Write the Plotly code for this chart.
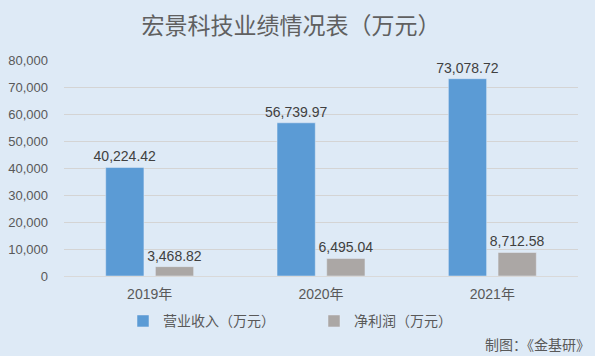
import plotly.graph_objects as go

years = ["2019年", "2020年", "2021年"]
revenue = [40224.42, 56739.97, 73078.72]
profit = [3468.82, 6495.04, 8712.58]
series_names = ["营业收入（万元）", "净利润（万元）"]
y_ticks = [0, 10000, 20000, 30000, 40000, 50000, 60000, 70000, 80000]
title = "宏景科技业绩情况表（万元）"
footer = "制图：《金基研》"

FONT = "Liberation Sans, Noto Sans CJK SC, sans-serif"
TXT = "#595959"

fig = go.Figure()
fig.add_trace(go.Bar(x=years, y=revenue, name=series_names[0], marker_color="#5B9BD5",
                     texttemplate="%{y:,.2f}", textposition="outside", constraintext="none",
                     textfont=dict(size=14, color="#404040", family=FONT), cliponaxis=False))
fig.add_trace(go.Bar(x=years, y=profit, name=series_names[1], marker_color="#ABA7A5",
                     texttemplate="%{y:,.2f}", textposition="outside", constraintext="none",
                     textfont=dict(size=14, color="#404040", family=FONT), cliponaxis=False))

fig.update_layout(
    width=595, height=356,
    paper_bgcolor="#DEEAF6", plot_bgcolor="#DEEAF6",
    margin=dict(l=64, r=17, t=60, b=80, autoexpand=False),
    barmode="group", bargap=0.42, bargroupgap=0.23,
    font=dict(family=FONT, color=TXT, size=13),
    title=dict(text=title, x=291/595, xanchor="center", y=1 - 26/356, yanchor="middle",
               font=dict(family="Noto Sans CJK SC", size=23, color="#606060")),
    legend=dict(orientation="h", x=(123-64)/514, xanchor="left", y=-0.21, yanchor="middle",
                font=dict(family="Noto Sans CJK SC", size=14, color=TXT),
                itemwidth=30, traceorder="normal", entrywidthmode="pixels", entrywidth=146),
    showlegend=True,
)
fig.update_xaxes(showgrid=False, showline=True, linecolor="#D9D9D9", linewidth=1,
                 ticks="", tickfont=dict(size=14, color=TXT, family="Liberation Sans, Noto Sans CJK SC"),
                 ticklabelstandoff=5, automargin=False)
fig.update_yaxes(range=[0, 80000], tickvals=y_ticks, tickformat=",", showgrid=True,
                 gridcolor="#D4D4D4", gridwidth=1, zeroline=False, showline=False,
                 tickfont=dict(size=13, color=TXT), ticklabelstandoff=15, automargin=False)
fig.add_annotation(text=footer, xref="paper", yref="paper", x=1 + 14/514, xanchor="right",
                   y=-(344-276)/216, yanchor="middle", showarrow=False,
                   font=dict(family="Noto Sans CJK SC", size=14, color=TXT))
fig.write_html("out.html", config={"displayModeBar": False})

with open("out.html", "r", encoding="utf-8") as f:
    html = f.read()
html = html.replace("<head>", "<head><style>html,body{margin:0;padding:0;overflow:hidden;}</style>", 1)
with open("out.html", "w", encoding="utf-8") as f:
    f.write(html)
